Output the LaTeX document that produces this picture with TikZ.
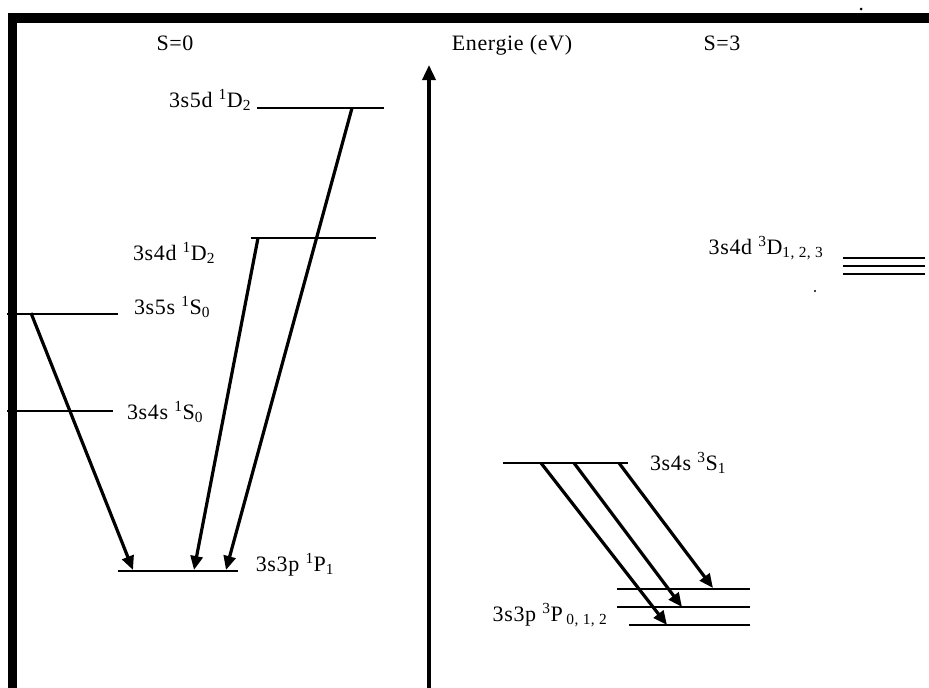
\documentclass[tikz,border=0pt]{standalone}
\usepackage{fontspec}
\setmainfont[LetterSpace=3]{Liberation Serif}
\usetikzlibrary{arrows.meta}

\begin{document}
\begin{tikzpicture}[x=1pt, y=-1pt,
    level/.style={line width=1.5pt},
    trans/.style={line width=3.2pt, -{Triangle[length=14pt,width=12pt]}},
    lbl/.style={inner sep=0pt, font=\fontsize{22}{26}\selectfont}]
  \useasboundingbox (0,0) rectangle (929,688);
  % frame
  \fill (8,13) rectangle (929,23);
  \fill (8,13) rectangle (17,688);
  \fill (861,9) circle (1.5);
  \fill (815,291) circle (1.2);

  % headings
  \node[lbl] (sing) at (175,43) {S=0};
  \node[lbl] (ener) at (512,45) {Energie (eV)};
  \node[lbl] (trip) at (722,43) {S=3};

  % energy axis
  \coordinate (axbot) at (429,688);
  \coordinate (axtop) at (429,65);
  \draw[line width=3.5pt, -{Triangle[length=15pt,width=13pt]}] (axbot) -- (axtop);

  % singlet levels
  \draw[level] (257,108) -- (384,108);
  \draw[level] (251,238) -- (376,238);
  \draw[level] (7,314) -- (118,314);
  \draw[level] (7,411) -- (113,411);
  \draw[level] (118,571) -- (238,571);
  \node[lbl] (lD5) at (210,100) {3s5d \textsuperscript{1}D\textsubscript{2}};
  \node[lbl] (lD4) at (174,253) {3s4d \textsuperscript{1}D\textsubscript{2}};
  \node[lbl] (lS5) at (172,307) {3s5s \textsuperscript{1}S\textsubscript{0}};
  \node[lbl] (lS4) at (165,412) {3s4s \textsuperscript{1}S\textsubscript{0}};
  \node[lbl] (lP1) at (295,565) {3s3p \textsuperscript{1}P\textsubscript{1}};

  % triplet levels
  \draw[level] (503,463) -- (628,463);
  \draw[level] (617,589) -- (750,589);
  \draw[level] (617,607) -- (750,607);
  \draw[level] (629,625) -- (750,625);
  \foreach \y in {258,266,274}
    \draw[level] (843,\y) -- (925,\y);
  \node[lbl] (lS1) at (688,463) {3s4s \textsuperscript{3}S\textsubscript{1}};
  \node[lbl] (lP3) at (550,615) {3s3p \textsuperscript{3}P\,\textsubscript{0, 1, 2}};
  \node[lbl] (lD3) at (766,248) {3s4d \textsuperscript{3}D\textsubscript{1, 2, 3}};

  % transition end points
  \coordinate (d5) at (352,108);
  \coordinate (d4) at (258,238);
  \coordinate (s5) at (31,313);
  \coordinate (pa) at (133,570);
  \coordinate (pb) at (194,570);
  \coordinate (pc) at (226,570);
  \coordinate (ta) at (541,463);
  \coordinate (tb) at (574,463);
  \coordinate (tc) at (619,463);
  \coordinate (p2) at (667,625);
  \coordinate (p1) at (682,607);
  \coordinate (p0) at (713,588);

  % transitions
  \draw[trans] (s5) -- (pa);
  \draw[trans] (d4) -- (pb);
  \draw[trans] (d5) -- (pc);
  \draw[trans] (ta) -- (p2);
  \draw[trans] (tb) -- (p1);
  \draw[trans] (tc) -- (p0);
\end{tikzpicture}
\end{document}
